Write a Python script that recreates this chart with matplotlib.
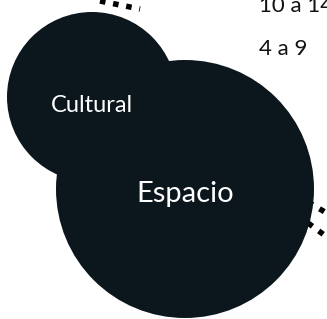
import numpy as np
import matplotlib.pyplot as plt
from matplotlib.patches import Circle

## Data
# bubbles: label, radius
labels = ['Cultural', 'Espacio']
radii = [85, 129]
centres = [(92, 97), (185, 189)]
label_sizes = [17, 21]

# legend-like range labels on the right
ranges = ['10 a 14', '4 a 9']

fill = '#0b171d'
dots = (0, (1, 1.4))

fig = plt.figure(figsize=(3.27, 3.19), dpi=100)
ax = fig.add_axes([0, 0, 1, 1])
ax.set_xlim(0, 327)
ax.set_ylim(319, 0)
ax.axis('off')

# dotted connectors behind the bubbles
ax.plot([100, 140], [1, 9], ls=dots, lw=4, color='black', zorder=1)
ax.plot([308, 335], [202, 218], ls=dots, lw=4, color='black', zorder=1)
ax.plot([308, 335], [223, 243], ls=dots, lw=4, color='black', zorder=1)

# bubbles
for (cx, cy), r in zip(centres, radii):
    ax.add_patch(Circle((cx, cy), r, facecolor=fill, edgecolor='none', zorder=2))

# bubble labels
ax.text(92, 112, labels[0], color='white', fontsize=label_sizes[0],
        family='Lato', ha='center', va='baseline', zorder=3)
ax.text(185, 202, labels[1], color='white', fontsize=label_sizes[1],
        family='Lato', ha='center', va='baseline', zorder=3)

# range labels
ax.text(259, 12, ranges[0], color='#111111', fontsize=16, family='Lato',
        ha='left', va='baseline')
ax.text(259, 55, ranges[1], color='#111111', fontsize=16, family='Lato',
        ha='left', va='baseline')

fig.savefig('out.png', dpi=100)
